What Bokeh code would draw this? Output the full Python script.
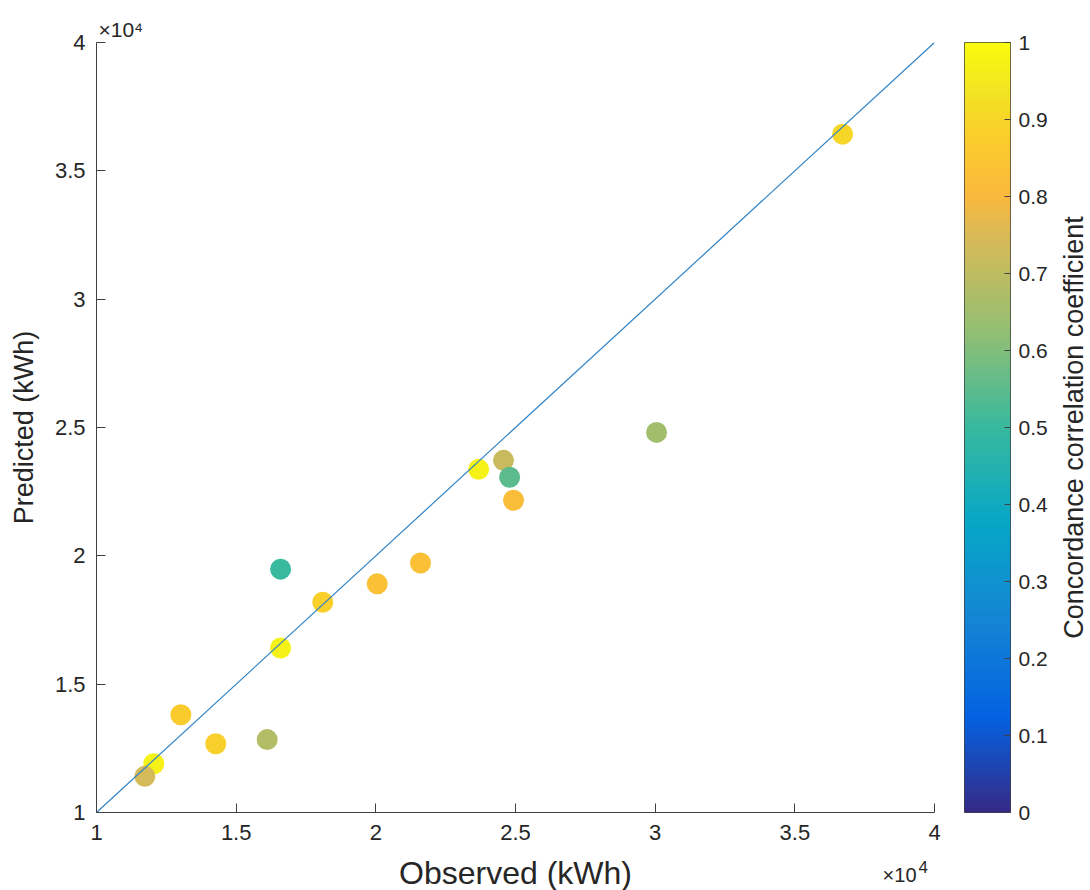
import math
import numpy as np
from bokeh.plotting import figure
from bokeh.models import (LinearColorMapper, FixedTicker, ColumnDataSource, Range1d, Title)
from bokeh.core.properties import value
from bokeh.layouts import row, column
from bokeh.transform import linear_cmap
from bokeh.embed import file_html
from bokeh.resources import INLINE

# ---------------- data ----------------
observed = [36710, 30050, 23680, 24570, 24790, 24930, 16590, 21600, 20050,
            18100, 16590, 13020, 14270, 16110, 12050, 11730]
predicted = [36430, 24810, 23370, 23720, 23060, 22165, 19480, 19720, 18910,
             18190, 16410, 13810, 12680, 12840, 11900, 11410]
ccc = [0.90, 0.65, 0.97, 0.72, 0.55, 0.82, 0.50, 0.83, 0.83,
       0.88, 0.97, 0.87, 0.88, 0.68, 0.97, 0.74]

diag_x = [10000, 40000]
diag_y = [10000, 40000]

axis_ticks = [10000, 15000, 20000, 25000, 30000, 35000, 40000]
axis_tick_labels = ["1", "1.5", "2", "2.5", "3", "3.5", "4"]
cb_ticks = [0, 0.1, 0.2, 0.3, 0.4, 0.5, 0.6, 0.7, 0.8, 0.9, 1]
cb_tick_labels = ["0", "0.1", "0.2", "0.3", "0.4", "0.5", "0.6", "0.7", "0.8", "0.9", "1"]

x_label = "Observed (kWh)"
y_label = "Predicted (kWh)"
cb_label = "Concordance correlation coefficient"

# ---------------- parula-like palette ----------------
anchor_pos = [0.0, 0.125, 0.25, 0.375, 0.5, 0.625, 0.75, 0.80, 0.875, 0.9375, 1.0]
anchor_rgb = [(53, 42, 135), (3, 99, 225), (20, 133, 212), (6, 167, 198),
              (56, 185, 158), (146, 191, 115), (217, 186, 86), (250, 184, 62),
              (250, 204, 44), (242, 228, 34), (249, 251, 14)]
tt = np.linspace(0, 1, 256)
arr = np.array(anchor_rgb, dtype=float)
parula = []
for t in tt:
    r = np.interp(t, anchor_pos, arr[:, 0])
    g = np.interp(t, anchor_pos, arr[:, 1])
    b = np.interp(t, anchor_pos, arr[:, 2])
    parula.append("#%02x%02x%02x" % (int(round(r)), int(round(g)), int(round(b))))

FONT = "Liberation Sans"
TXT = "#262626"
AX = "#404040"
ROW_H = 851

# ---------------- main figure ----------------
src = ColumnDataSource(dict(x=observed, y=predicted, c=ccc))

p = figure(width=948, height=ROW_H, output_backend="svg", toolbar_location=None,
           x_range=Range1d(10000, 40000), y_range=Range1d(10000, 40000),
           min_border_left=96, min_border_right=14, min_border_top=41,
           min_border_bottom=ROW_H - 813)
p.grid.visible = False
p.outline_line_color = None
p.background_fill_color = "white"
p.border_fill_color = "white"

p.title = Title(text="\u00d710\u2074", align="left", offset=2, standoff=3,
                text_font=FONT, text_font_size="21px", text_font_style="normal",
                text_color=TXT)

p.scatter("x", "y", source=src, size=21,
          fill_color=linear_cmap("c", parula, 0, 1), line_color=None)
p.line(diag_x, diag_y, line_color="#2f83c6", line_width=1.2)

overrides = {t: l for t, l in zip(axis_ticks, axis_tick_labels)}
for ax in (p.xaxis[0], p.yaxis[0]):
    ax.ticker = FixedTicker(ticks=axis_ticks)
    ax.major_label_overrides = overrides
    ax.major_tick_in = 9
    ax.major_tick_out = 0
    ax.minor_tick_line_color = None
    ax.axis_line_color = AX
    ax.major_tick_line_color = AX
    ax.major_label_text_font = FONT
    ax.major_label_text_font_size = "22px"
    ax.major_label_text_color = TXT
    ax.axis_label_text_font = FONT
    ax.axis_label_text_font_style = "normal"
    ax.axis_label_text_color = TXT

p.xaxis.major_label_standoff = 12
p.yaxis.axis_label = y_label
p.yaxis.axis_label_text_font_size = "27px"
p.yaxis.major_label_standoff = 11
p.yaxis.axis_label_standoff = 13

# ---------------- colorbar figure ----------------
cb = figure(width=112, height=ROW_H, output_backend="svg", toolbar_location=None,
            x_range=Range1d(0, 1), y_range=Range1d(0, 1),
            x_axis_location=None, y_axis_location="right",
            min_border_left=16, min_border_right=50, min_border_top=42,
            min_border_bottom=ROW_H - 812)
cb.grid.visible = False
grad = np.linspace(0, 1, 256).reshape(-1, 1)
cb.image(image=[grad], x=0, y=0, dw=1, dh=1,
         color_mapper=LinearColorMapper(palette=parula, low=0, high=1))
cb.outline_line_color = AX
cb.outline_line_width = 1
cb.border_fill_color = "white"

cax = cb.yaxis[0]
cax.ticker = FixedTicker(ticks=cb_ticks)
cax.major_label_overrides = {t: l for t, l in zip(cb_ticks, cb_tick_labels)}
cax.major_tick_in = 6
cax.major_tick_out = 0
cax.minor_tick_line_color = None
cax.axis_line_color = None
cax.major_tick_line_color = AX
cax.major_label_standoff = 8
cax.major_label_text_font = FONT
cax.major_label_text_font_size = "21px"
cax.major_label_text_color = TXT

# ---------------- colorbar title figure (rotated text) ----------------
lab = figure(width=30, height=ROW_H, output_backend="svg", toolbar_location=None,
             x_range=Range1d(0, 30), y_range=Range1d(0, 1),
             x_axis_location=None, y_axis_location=None,
             min_border_left=0, min_border_right=0, min_border_top=42,
             min_border_bottom=ROW_H - 812)
lab.grid.visible = False
lab.outline_line_color = None
lab.border_fill_color = "white"
lab.text(x=[13], y=[0.5], text=[cb_label], angle=math.pi / 2,
         text_font=value(FONT), text_font_size="27px", text_color=TXT,
         text_align="center", text_baseline="middle")

# ---------------- bottom strip with x label and exponent ----------------
STRIP_H = 890 - ROW_H
strip = figure(width=948, height=STRIP_H, output_backend="svg", toolbar_location=None,
               x_range=Range1d(10000, 40000), y_range=Range1d(0, STRIP_H),
               x_axis_location=None, y_axis_location=None,
               min_border_left=96, min_border_right=14, min_border_top=0,
               min_border_bottom=0)
strip.grid.visible = False
strip.outline_line_color = None
strip.border_fill_color = "white"
strip.text(x=[25000], y=[18], text=[x_label], text_font=value(FONT),
           text_font_size="32px", text_color=TXT, text_align="center",
           text_baseline="alphabetic")
strip.text(x=[40000], y=[16], text=["\u00d710"], text_font=value(FONT),
           text_font_size="20px", text_color=TXT, text_align="right",
           text_baseline="alphabetic", x_offset=-18)
strip.text(x=[40000], y=[24], text=["4"], text_font=value(FONT),
           text_font_size="17px", text_color=TXT, text_align="left",
           text_baseline="alphabetic", x_offset=-16)

layout = column(row(p, cb, lab, spacing=0), strip, spacing=0)
open("out.html", "w").write(file_html(layout, INLINE))
